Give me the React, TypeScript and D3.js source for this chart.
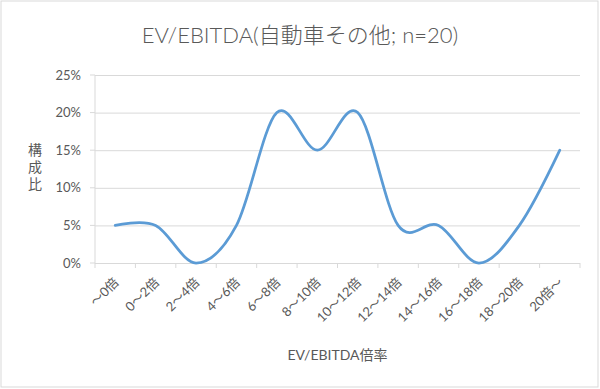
import { useEffect, useRef } from 'react'
import * as d3 from 'd3'

const W = 600
const H = 389
const MARGIN = { top: 75, right: 20, bottom: 126, left: 95 }

const categories = ['～0倍', '0～2倍', '2～4倍', '4～6倍', '6～8倍', '8～10倍', '10～12倍', '12～14倍', '14～16倍', '16～18倍', '18～20倍', '20倍～']
const shares = [0.05, 0.05, 0, 0.05, 0.2, 0.15, 0.2, 0.05, 0.05, 0, 0.05, 0.15]
const yTicks = [0, 0.05, 0.1, 0.15, 0.2, 0.25]

const FONT = "Lato, 'Noto Sans CJK JP', sans-serif"
const TEXT = '#595959'
const GRID = '#d9d9d9'
const LINE = '#5b9bd5'

export default function App() {
  const svgRef = useRef<SVGSVGElement>(null)

  useEffect(() => {
    if (!svgRef.current) return
    const svg = d3.select(svgRef.current)
    svg.selectAll('*').remove()

    const innerW = W - MARGIN.left - MARGIN.right
    const innerH = H - MARGIN.top - MARGIN.bottom

    const x = d3.scaleBand<string>().domain(categories).range([0, innerW])
    const y = d3.scaleLinear().domain([0, 0.25]).range([innerH, 0])

    svg.append('rect')
      .attr('x', 1).attr('y', 1)
      .attr('width', W - 3).attr('height', H - 3)
      .attr('fill', '#fff')
      .attr('stroke', GRID)

    svg.append('text')
      .attr('x', 300)
      .attr('y', 43)
      .attr('text-anchor', 'middle')
      .attr('fill', TEXT)
      .attr('font-size', 22)
      .attr('font-weight', 300)
      .text('EV/EBITDA(自動車その他; n=20)')

    const g = svg.append('g').attr('transform', `translate(${MARGIN.left},${MARGIN.top})`)

    // gridlines + y labels
    g.append('g')
      .call(d3.axisLeft(y).tickValues(yTicks).tickSize(-innerW).tickFormat(d3.format('.0%')))
      .call(s => s.select('.domain').remove())
      .call(s => s.selectAll('line').attr('stroke', GRID))
      .call(s => s.selectAll('text')
        .attr('x', -14)
        .attr('fill', TEXT)
        .attr('font-size', 13)
        .attr('font-family', FONT))

    // y axis line + short ticks
    g.append('line')
      .attr('x1', 0).attr('x2', 0).attr('y1', 0).attr('y2', innerH)
      .attr('stroke', GRID)
    g.selectAll('.ytick')
      .data(yTicks)
      .enter()
      .append('line')
      .attr('x1', -5).attr('x2', 0)
      .attr('y1', d => y(d)).attr('y2', d => y(d))
      .attr('stroke', GRID)

    // x ticks
    const edges = [...categories.map(c => x(c) as number), innerW]
    g.selectAll('.xtick')
      .data(edges)
      .enter()
      .append('line')
      .attr('x1', d => d).attr('x2', d => d)
      .attr('y1', innerH).attr('y2', innerH + 5)
      .attr('stroke', GRID)

    g.selectAll('.xlabel')
      .data(categories)
      .enter()
      .append('text')
      .attr('transform', c => `translate(${(x(c) as number) + x.bandwidth() / 2 + 1},${innerH + 17}) rotate(-45)`)
      .attr('text-anchor', 'end')
      .attr('dy', '0.35em')
      .attr('fill', TEXT)
      .attr('font-size', 13)
      .attr('font-family', FONT)
      .text(c => c)

    // smoothed line
    const line = d3.line<number>()
      .x((_, i) => (x(categories[i]) as number) + x.bandwidth() / 2)
      .y(d => y(d))
      .curve(d3.curveCardinal.tension(0))

    g.append('path')
      .datum(shares)
      .attr('d', line)
      .attr('fill', 'none')
      .attr('stroke', LINE)
      .attr('stroke-width', 2.75)
      .attr('stroke-linecap', 'round')

    // axis titles
    const yTitle = g.append('text')
      .attr('x', -60)
      .attr('y', 80)
      .attr('text-anchor', 'middle')
      .attr('fill', TEXT)
      .attr('font-size', 14)
      .attr('font-family', FONT)
    ;['構', '成', '比'].forEach((ch, i) => {
      yTitle.append('tspan').attr('x', -60).attr('dy', i === 0 ? 0 : 17).text(ch)
    })

    g.append('text')
      .attr('x', innerW / 2)
      .attr('y', innerH + 97)
      .attr('text-anchor', 'middle')
      .attr('fill', TEXT)
      .attr('font-size', 14)
      .attr('font-family', FONT)
      .text('EV/EBITDA倍率')
  }, [])

  return (
    <svg
      ref={svgRef}
      width={W}
      height={H}
      style={{ position: 'absolute', left: 0, top: 0, fontFamily: FONT }}
    />
  )
}
